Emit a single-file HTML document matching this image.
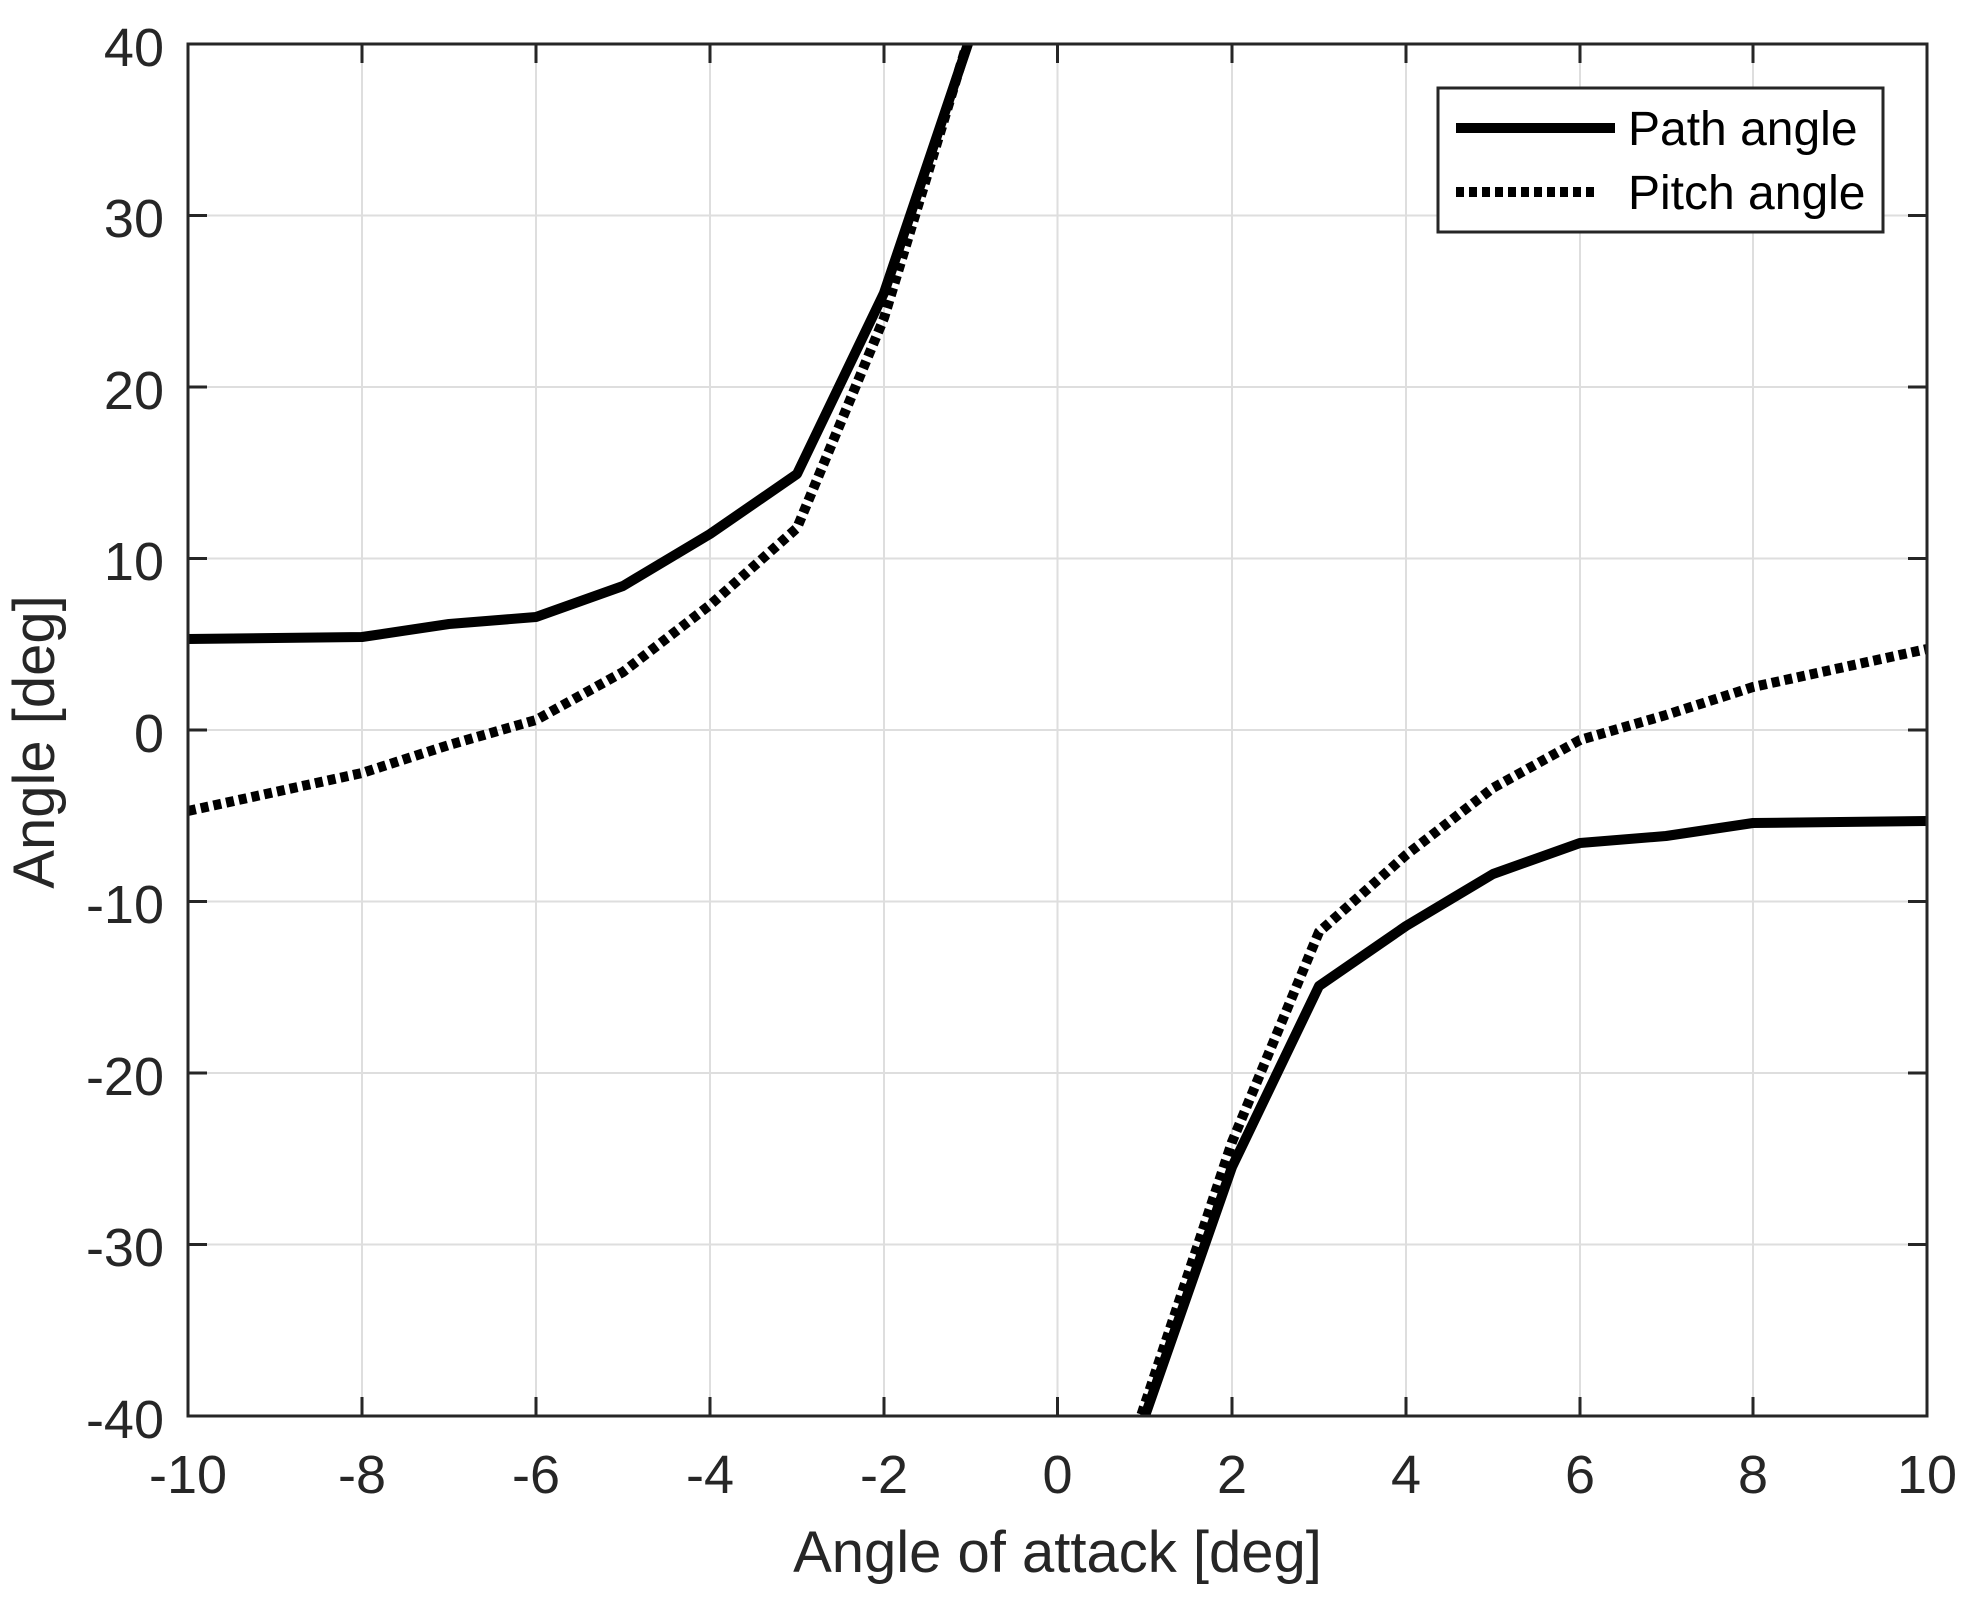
<!DOCTYPE html>
<html><head><meta charset="utf-8"><style>
html,body{margin:0;padding:0;background:#fff;}
text{font-family:"Liberation Sans",Arial,sans-serif;fill:#262626;}
</style></head><body>
<svg width="1968" height="1615" viewBox="0 0 1968 1615" xmlns="http://www.w3.org/2000/svg">
<defs><clipPath id="c"><rect x="188" y="44" width="1739" height="1372"/></clipPath></defs>
<g stroke="#dedede" stroke-width="2">
<line x1="362" y1="44" x2="362" y2="1416"/><line x1="536" y1="44" x2="536" y2="1416"/><line x1="710" y1="44" x2="710" y2="1416"/><line x1="884" y1="44" x2="884" y2="1416"/><line x1="1057.5" y1="44" x2="1057.5" y2="1416"/><line x1="1232" y1="44" x2="1232" y2="1416"/><line x1="1406" y1="44" x2="1406" y2="1416"/><line x1="1580" y1="44" x2="1580" y2="1416"/><line x1="1753" y1="44" x2="1753" y2="1416"/>
<line x1="188" y1="215.5" x2="1927" y2="215.5"/><line x1="188" y1="387" x2="1927" y2="387"/><line x1="188" y1="558.5" x2="1927" y2="558.5"/><line x1="188" y1="730" x2="1927" y2="730"/><line x1="188" y1="901.5" x2="1927" y2="901.5"/><line x1="188" y1="1073" x2="1927" y2="1073"/><line x1="188" y1="1244.5" x2="1927" y2="1244.5"/>
</g>
<g stroke="#262626" stroke-width="3">
<path d="M362 44v19M536 44v19M710 44v19M884 44v19M1057.5 44v19M1232 44v19M1406 44v19M1580 44v19M1753 44v19
M362 1416v-19M536 1416v-19M710 1416v-19M884 1416v-19M1057.5 1416v-19M1232 1416v-19M1406 1416v-19M1580 1416v-19M1753 1416v-19
M188 215.5h19M188 387h19M188 558.5h19M188 730h19M188 901.5h19M188 1073h19M188 1244.5h19
M1927 215.5h-19M1927 387h-19M1927 558.5h-19M1927 730h-19M1927 901.5h-19M1927 1073h-19M1927 1244.5h-19"/>
</g>
<g clip-path="url(#c)" fill="none" stroke="#000" stroke-width="10" stroke-linejoin="round">
<polyline points="188,639 275,638 362,637 449,624 536,617 623,586 710,534 797,474 884,293 971,35 975,0"/>
<polyline points="1141,1440 1145,1416 1232,1167 1319,986 1406,926 1493,874 1580,843 1666,836 1753,823 1840,822 1927,821"/>
<g stroke-dasharray="8 5" stroke-linejoin="miter">
<polyline points="188,811 275,792 362,773 449,745 536,720 623,672 710,605 797,528 884,318 967,44 972,20"/>
<polyline points="1136,1440 1141,1416 1232,1142 1319,932 1406,855 1493,788 1580,740 1666,715 1753,687 1840,668 1927,649"/>
</g>
</g>
<rect x="188" y="44" width="1739" height="1372" fill="none" stroke="#262626" stroke-width="3"/>
<rect x="1438" y="88" width="445" height="144" fill="#fff" stroke="#262626" stroke-width="3"/>
<line x1="1456" y1="128" x2="1615" y2="128" stroke="#000" stroke-width="10"/>
<line x1="1456" y1="192" x2="1598" y2="192" stroke="#000" stroke-width="10" stroke-dasharray="8 5"/>
<text x="1628" y="145" font-size="48" style="fill:#000">Path angle</text>
<text x="1628" y="209" font-size="48" style="fill:#000">Pitch angle</text>
<g font-size="54" text-anchor="end">
<text x="164" y="66">40</text><text x="164" y="237">30</text><text x="164" y="409">20</text><text x="164" y="580">10</text><text x="164" y="752">0</text><text x="164" y="923">-10</text><text x="164" y="1095">-20</text><text x="164" y="1266">-30</text><text x="164" y="1438">-40</text>
</g>
<g font-size="54" text-anchor="middle">
<text x="188" y="1493">-10</text><text x="362" y="1493">-8</text><text x="536" y="1493">-6</text><text x="710" y="1493">-4</text><text x="884" y="1493">-2</text><text x="1057.5" y="1493">0</text><text x="1232" y="1493">2</text><text x="1406" y="1493">4</text><text x="1580" y="1493">6</text><text x="1753" y="1493">8</text><text x="1927" y="1493">10</text>
</g>
<text x="1057.5" y="1572" font-size="58" text-anchor="middle">Angle of attack [deg]</text>
<text transform="translate(54,742) rotate(-90)" font-size="58" text-anchor="middle">Angle [deg]</text>
</svg>
</body></html>
